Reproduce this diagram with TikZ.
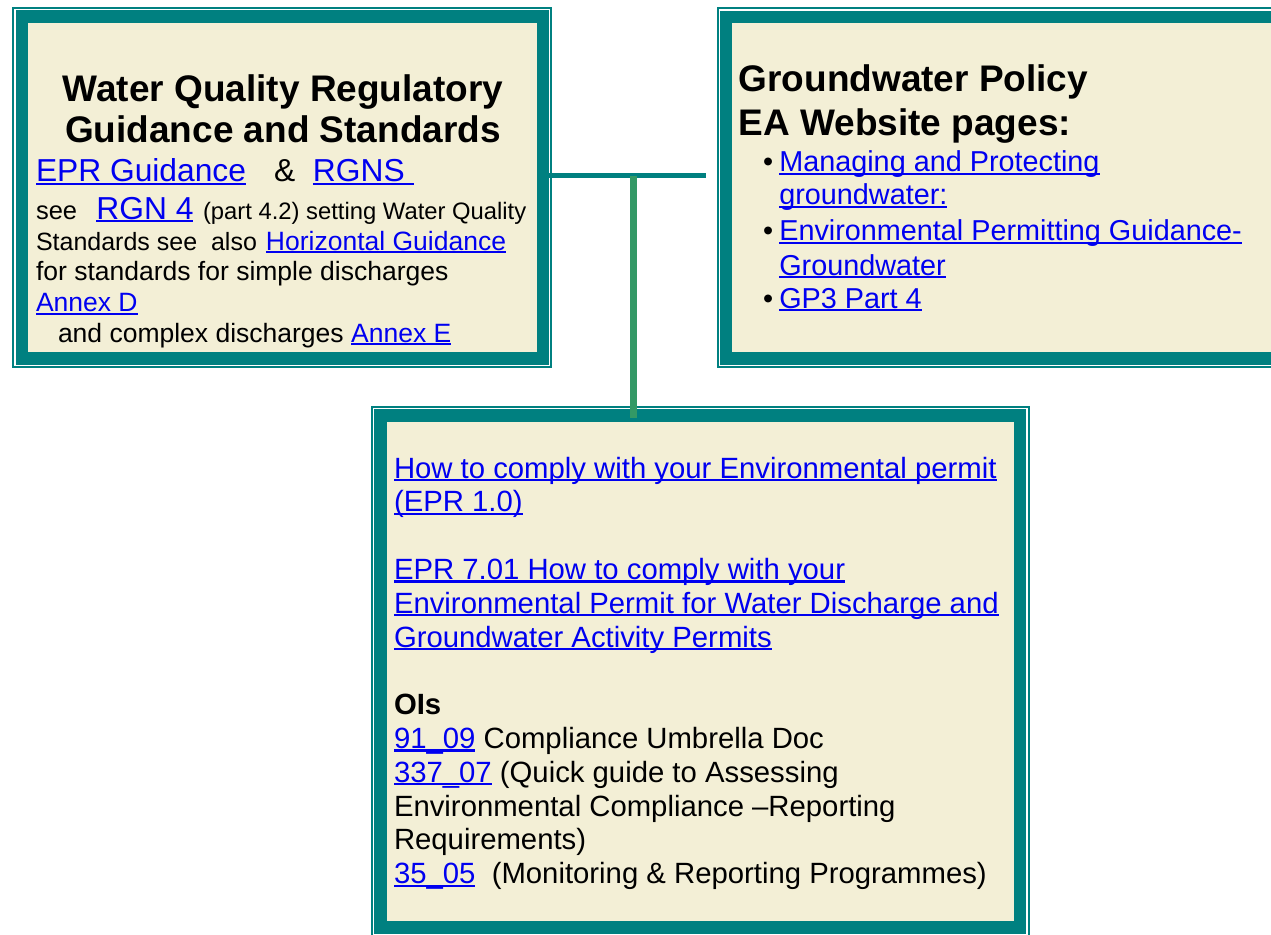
\documentclass[tikz,border=0pt]{standalone}
\usepackage{fontspec}
\setmainfont{Liberation Sans}
\usepackage{tikz}
\definecolor{teal_border}{RGB}{0,128,128}
\definecolor{cream_fill}{RGB}{243,239,214}
\definecolor{link_blue}{RGB}{0,0,240}
\definecolor{join_green}{RGB}{51,153,102}
\newcommand{\setfs}[1]{\fontsize{#1}{#1}\selectfont}
\newlength{\lnkwd}
\newcommand{\lnk}[1]{\settowidth{\lnkwd}{#1}\textcolor{link_blue}{\rlap{\rule[-0.11em]{\lnkwd}{0.075em}}#1}}

\begin{document}
\begin{tikzpicture}[x=1pt,y=-1pt]
    \tikzstyle{panel}=[draw=teal_border, fill=cream_fill, line width=12.5pt, rectangle, anchor=north west, inner sep=0pt, outer sep=0pt]
    \tikzstyle{rim}=[draw=teal_border, line width=2pt]
    \tikzstyle{txt}=[anchor=base west, inner sep=0pt, outer sep=0pt, text=black]
    \tikzstyle{head}=[txt, font=\bfseries\setfs{37}]
    \tikzstyle{bul}=[txt, font=\setfs{28.8}]
    \tikzstyle{body}=[txt, font=\setfs{29.3}]

    \fill[white] (0,0) rectangle (1271,934);
    \useasboundingbox (0,0) rectangle (1271,934);
    \clip (0,0) rectangle (1271,934);

    % the three panels
    \node[panel, minimum width=521pt, minimum height=341.9pt] (lbox) at (21.85,16.6) {};
    \node[panel, minimum width=564pt, minimum height=341.4pt] (rbox) at (726,16.85) {};
    \node[panel, minimum width=639.3pt, minimum height=512.2pt] (bbox) at (380.7,415.3) {};
    \foreach \b in {lbox,rbox,bbox}
        \draw[rim] ([shift={(-8.5,-8.5)}]\b.north west) rectangle ([shift={(8.5,8.5)}]\b.south east);

    % joining bars
    \coordinate (hend) at (706,175.5);
    \coordinate (vtop) at (633.5,176);
    \draw[teal_border, line width=5.6pt] (lbox.east |- hend) -- (hend);
    \draw[join_green, line width=7pt] (vtop) -- ([yshift=-3pt]vtop |- bbox.north);

    % left panel
    \node[head, anchor=base] (lhead1) at (283,101.7) {Water Quality Regulatory};
    \node[head, anchor=base] (lhead2) at (283,142.7) {Guidance and Standards};
    \node[txt] (l1) at (36,181.7) {\setfs{31.75}\lnk{EPR Guidance}\hspace{28pt}\&\hspace{17.8pt}\lnk{RGNS\ }};
    \node[txt] (l2) at (36,219) {\setfs{25.5}see\hspace{19.3pt}\setfs{31.75}\lnk{RGN 4}\hspace{9.6pt}\setfs{23.8}(part 4.2) setting Water Quality};
    \node[txt] (l3) at (36,250) {\setfs{25}Standards see\ \ also\hspace{9pt}\setfs{26.5}\lnk{Horizontal Guidance}};
    \node[txt] (l4) at (36,280) {\setfs{26.5}for standards for simple discharges};
    \node[txt] (l5) at (36,311.7) {\setfs{26.5}\lnk{Annex D}};
    \node[txt] (l6) at (58,342.3) {\setfs{26.5}and complex discharges \lnk{Annex E}};

    % right panel
    \node[head] (rhead1) at (738.6,91.7) {Groundwater Policy};
    \node[head] (rhead2) at (738.6,135) {EA Website pages:};
    \node[bul] (dot1) at (763,171.7) {•};
    \node[bul] (dot2) at (763,240.7) {•};
    \node[bul] (dot3) at (763,308.3) {•};
    \node[bul] (r1) at (779.3,171.7) {\lnk{Managing and Protecting}};
    \node[bul] (r2) at (779.3,204.5) {\lnk{groundwater:}};
    \node[bul] (r3) at (779.3,240.7) {\lnk{Environmental Permitting Guidance-}};
    \node[bul] (r4) at (779.3,275) {\lnk{Groundwater}};
    \node[bul] (r5) at (779.3,308.3) {\lnk{GP3 Part 4}};

    % bottom panel
    \node[body] (b1) at (394,478) {\lnk{How to comply with your Environmental permit}};
    \node[body] (b2) at (394,511.8) {\lnk{(EPR 1.0)}};
    \node[body] (b3) at (394,579.4) {\lnk{EPR 7.01 How to comply with your}};
    \node[body] (b4) at (394,613.2) {\lnk{Environmental Permit for Water Discharge and}};
    \node[body] (b5) at (394,647) {\lnk{Groundwater Activity Permits}};
    \node[body] (b6) at (394,714.6) {\textbf{OIs}};
    \node[body] (b7) at (394,748.4) {\lnk{91\_09} Compliance Umbrella Doc};
    \node[body] (b8) at (394,782.2) {\lnk{337\_07} (Quick guide to Assessing};
    \node[body] (b9) at (394,816) {Environmental Compliance –Reporting};
    \node[body] (b10) at (394,849.8) {Requirements)};
    \node[body] (b11) at (394,883.6) {\lnk{35\_05}\ \ (Monitoring \& Reporting Programmes)};
\end{tikzpicture}
\end{document}
